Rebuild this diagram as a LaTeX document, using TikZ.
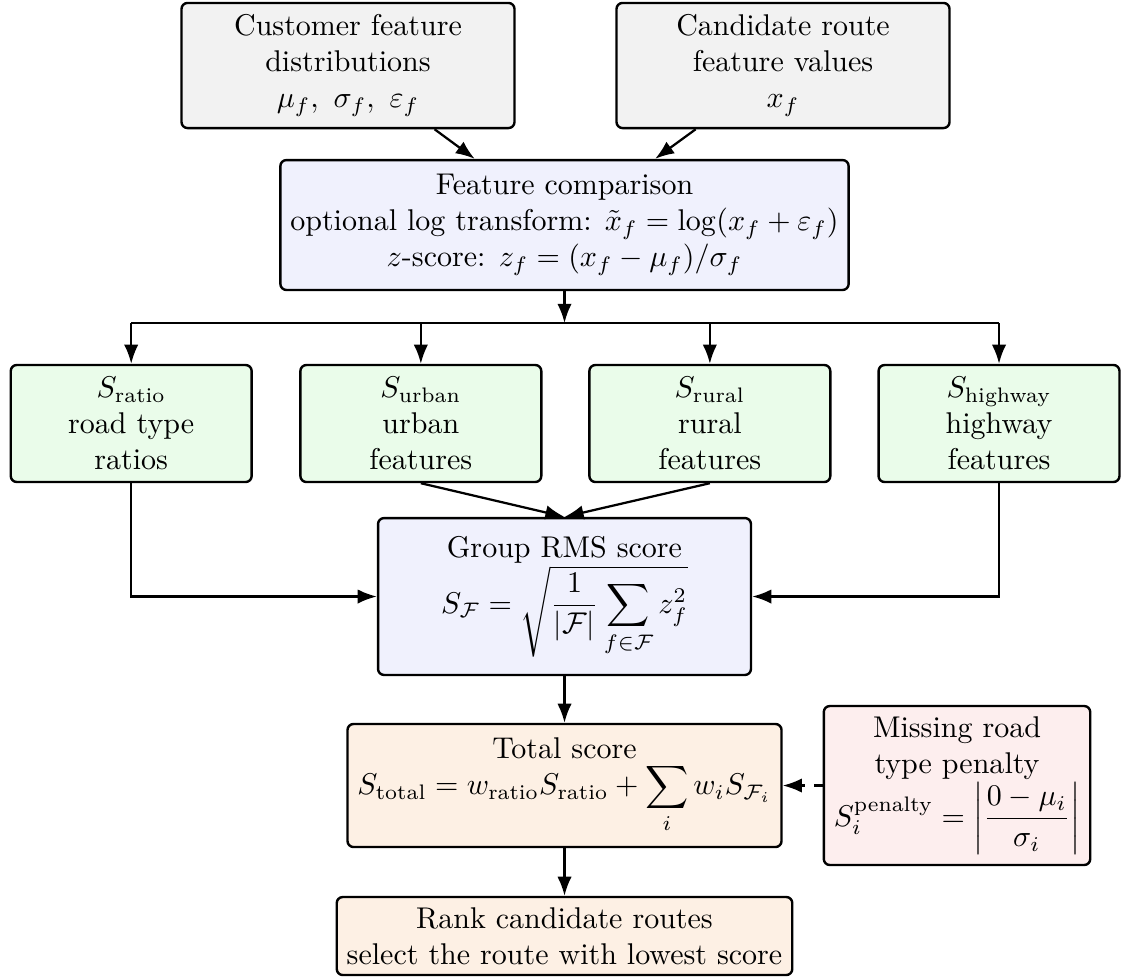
\documentclass[tikz,border=0pt]{standalone}
\usepackage{amsmath}
\usetikzlibrary{arrows.meta,calc}
\definecolor{grayfill}{RGB}{242,242,242}
\definecolor{bluefill}{RGB}{240,241,253}
\definecolor{greenfill}{RGB}{234,252,234}
\definecolor{orangefill}{RGB}{253,240,228}
\definecolor{pinkfill}{RGB}{253,238,238}
\tikzset{
  box/.style={draw=black, line width=0.8pt, rounded corners=2pt, align=center, inner sep=3.33pt},
  inbox/.style={box, fill=grayfill, minimum width=111pt, minimum height=41.7pt},
  procbox/.style={box, fill=bluefill},
  grpbox/.style={box, fill=greenfill, minimum width=80.3pt, minimum height=39pt},
  totbox/.style={box, fill=orangefill},
  penbox/.style={box, fill=pinkfill},
  conn/.style={line width=0.75pt, -{Latex}},
  plain/.style={line width=0.75pt},
  dashconn/.style={line width=0.75pt, dashed, -{Latex}}
}
\begin{document}
\begin{tikzpicture}[x=0.33333pt, y=-0.33333pt]
\useasboundingbox (0,0) rectangle (1121,979);

\node[inbox] (A) at (348,65.5) {Customer feature\\distributions\\$\mu_f,\ \sigma_f,\ \varepsilon_f$};
\node[inbox] (B) at (783,65.5) {Candidate route\\feature values\\$x_f$};

\node[procbox, minimum height=43.3pt] (C) at (564.5,225) {Feature comparison\\optional log transform: $\tilde{x}_f=\log(x_f+\varepsilon_f)$\\$z$-score: $z_f=(x_f-\mu_f)/\sigma_f$};

\coordinate (bus) at (564.5,323);

\node[grpbox] (ratio) at (131.2,423.5) {$S_{\text{ratio}}$\\road type\\ratios};
\node[grpbox] (urban) at (420.85,423.5) {$S_{\text{urban}}$\\urban\\features};
\node[grpbox] (rural) at (709.85,423.5) {$S_{\text{rural}}$\\rural\\features};
\node[grpbox] (highway) at (999,423.5) {$S_{\text{highway}}$\\highway\\features};

\node[procbox, minimum width=124.3pt, minimum height=52.3pt] (rms) at (564.5,596.5) {Group RMS score\\$\displaystyle S_{\mathcal{F}}=\sqrt{\frac{1}{|\mathcal{F}|}\sum_{f\in\mathcal{F}} z_f^2}$};

\node[totbox, minimum width=141pt, minimum height=41pt] (total) at (564.5,785.5) {Total score\\$\displaystyle S_{\text{total}}=w_{\text{ratio}}S_{\text{ratio}}+\sum_i w_i S_{\mathcal{F}_i}$};

\node[penbox, minimum width=87pt, minimum height=53pt] (pen) at (957,785.5) {Missing road\\type penalty\\$\displaystyle S_i^{\text{penalty}}=\left|\frac{0-\mu_i}{\sigma_i}\right|$};

\node[totbox, minimum width=151.7pt, minimum height=26pt] (rank) at (564.5,936) {Rank candidate routes\\select the route with lowest score};

\draw[conn] (A) -- (C);
\draw[conn] (B) -- (C);

\draw[conn] (C.south) -- (bus);
\draw[plain] (ratio.north |- bus) -- (highway.north |- bus);
\draw[conn] (ratio.north |- bus) -- (ratio.north);
\draw[conn] (urban.north |- bus) -- (urban.north);
\draw[conn] (rural.north |- bus) -- (rural.north);
\draw[conn] (highway.north |- bus) -- (highway.north);

\draw[conn] (urban.south) -- (rms.north);
\draw[conn] (rural.south) -- (rms.north);
\draw[conn] (ratio.south) |- (rms.west);
\draw[conn] (highway.south) |- (rms.east);

\draw[conn] (rms.south) -- (total.north);
\draw[dashconn] (pen.west) -- (total.east);
\draw[conn] (total.south) -- (rank.north);
\end{tikzpicture}
\end{document}
